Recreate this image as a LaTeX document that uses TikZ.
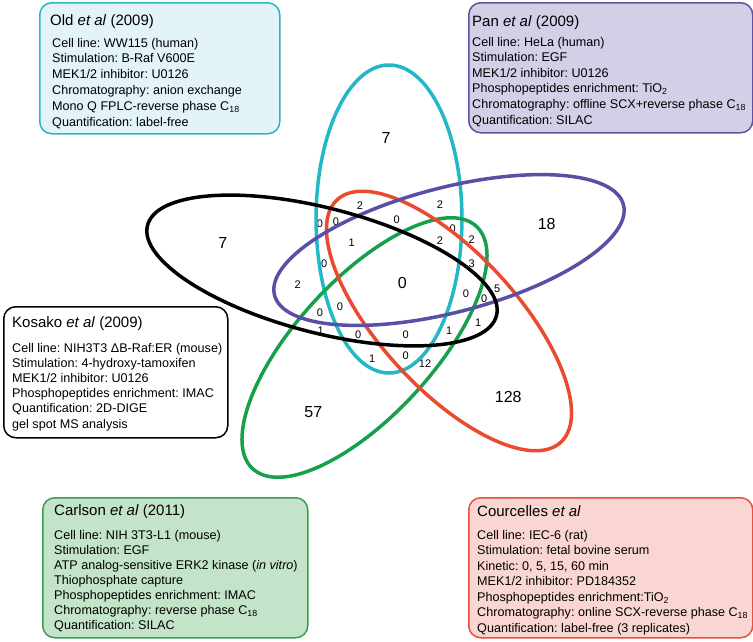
\documentclass[tikz,border=0pt]{standalone}
\usepackage{fontspec}
\setmainfont{Liberation Sans}
\frenchspacing
\definecolor{cyE}{HTML}{22B8C6}
\definecolor{puE}{HTML}{5A4FA6}
\definecolor{grE}{HTML}{16A04A}
\definecolor{reE}{HTML}{EA4A30}
\definecolor{cyF}{HTML}{E2F4F8}
\definecolor{puF}{HTML}{D3CFE7}
\definecolor{grF}{HTML}{C4E4C9}
\definecolor{reF}{HTML}{FAD6D2}
\definecolor{cyB}{HTML}{30B4C2}
\definecolor{puB}{HTML}{5E52A2}
\definecolor{grB}{HTML}{3A9E55}
\definecolor{reB}{HTML}{E8503C}
\newcommand{\vennell}[5]{%
  \begin{scope}[shift={(#1,#2)}, xscale=1.186]
    \draw[ell, #4, rotate=#3] (0,0) ellipse [x radius=154pt, y radius=61.5pt];
  \end{scope}}
\begin{document}
\begin{tikzpicture}[x=1pt, y=-1pt,
  boxst/.style={rounded corners=12pt, line width=1.5pt, anchor=north west, inner sep=0pt},
  ttl/.style={anchor=base west, inner sep=0pt, font=\fontsize{15}{18}\selectfont},
  txt/.style={anchor=base west, inner sep=0pt, font=\fontsize{12.6}{15}\selectfont},
  sm/.style={inner sep=0pt, font=\fontsize{11}{13}\selectfont},
  big/.style={inner sep=0pt, font=\fontsize{16}{19}\selectfont},
  ell/.style={line width=3.5pt}]
\useasboundingbox (0,0) rectangle (753,641);
\fill[white] (0,0) rectangle (753,641);

% boxes
\node[boxst, draw=cyB, fill=cyF, minimum width=240pt, minimum height=131pt] (oldbox) at (39,2) {};
\node[boxst, draw=puB, fill=puF, minimum width=284pt, minimum height=130pt] (panbox) at (468,2) {};
\node[boxst, draw=black, fill=white, minimum width=224pt, minimum height=131pt] (kosbox) at (3,306) {};
\node[boxst, draw=grB, fill=grF, minimum width=265pt, minimum height=140pt] (carbox) at (42,497) {};
\node[boxst, draw=reB, fill=reF, minimum width=284pt, minimum height=140pt] (coubox) at (468,497) {};

% Old
\node[ttl] (oldt) at (50,25) {Old \textit{et al} (2009)};
\foreach \t [count=\i] in {{Cell line: WW115 (human)},{Stimulation: B-Raf V600E},{MEK1/2 inhibitor: U0126},{Chromatography: anion exchange},{Mono Q FPLC-reverse phase C\textsubscript{18}},{Quantification: label-free}}
  \node[txt] (old\i) at (52,{47+(\i-1)*15.8}) {\t};
% Pan
\node[ttl] (pant) at (472,26) {Pan \textit{et al} (2009)};
\foreach \t [count=\i] in {{Cell line: HeLa (human)},{Stimulation: EGF},{MEK1/2 inhibitor: U0126},{Phosphopeptides enrichment: TiO\textsubscript{2}},{Chromatography: offline SCX+reverse phase C\textsubscript{18}},{Quantification: SILAC}}
  \node[txt] (pan\i) at (472,{46+(\i-1)*15.6}) {\t};
% Kosako
\node[ttl] (kost) at (12,327) {Kosako \textit{et al} (2009)};
\foreach \t [count=\i] in {{Cell line: NIH3T3 ΔB-Raf:ER (mouse)},{Stimulation: 4-hydroxy-tamoxifen},{MEK1/2 inhibitor: U0126},{Phosphopeptides enrichment: IMAC},{Quantification: 2D-DIGE},{gel spot MS analysis}}
  \node[txt] (kos\i) at (12,{352+(\i-1)*15.2}) {\t};
% Carlson
\node[ttl] (cart) at (54,515) {Carlson \textit{et al} (2011)};
\foreach \t [count=\i] in {{Cell line: NIH 3T3-L1 (mouse)},{Stimulation: EGF},{ATP analog-sensitive ERK2 kinase (\textit{in vitro})},{Thiophosphate capture},{Phosphopeptides enrichment: IMAC},{Chromatography: reverse phase C\textsubscript{18}},{Quantification: SILAC}}
  \node[txt] (car\i) at (54,{539+(\i-1)*15}) {\t};
% Courcelles
\node[ttl] (cout) at (477,516) {Courcelles \textit{et al}};
\foreach \t [count=\i] in {{Cell line: IEC-6 (rat)},{Stimulation: fetal bovine serum},{Kinetic: 0, 5, 15, 60 min},{MEK1/2 inhibitor: PD184352},{Phosphopeptides enrichment:TiO\textsubscript{2}},{Chromatography: online SCX-reverse phase C\textsubscript{18}},{Quantification: label-free (3 replicates)}}
  \node[txt] (cou\i) at (477,{539+(\i-1)*15.5}) {\t};

% Venn numbers
\foreach \x/\y/\t [count=\i] in {360/206/2, 320/223.3/0, 336/221.7/0, 351.7/242.7/1, 324.3/263.3/0, 297.7/285/2, 320/312.7/0, 340/306.7/0, 320.7/330.7/1, 358.3/335/0, 372.3/358.3/1, 440/205/2, 396.7/219.3/0, 452.7/228.3/0, 440/241/2, 471.7/240/2, 471.7/263.3/3, 466/293.3/0, 484.3/299/0, 497.3/288.3/5, 478.3/322.7/1, 449.3/330.7/1, 405.7/334.3/0, 405.7/356/0, 425/363.3/12}
  \node[sm] (s\i) at (\x,\y) {\t};
\foreach \x/\y/\t [count=\i] in {386/138.3/7, 222.7/243.3/7, 546.7/224.3/18, 402.3/283.3/0, 313.3/411.7/57, 508.3/396.7/128}
  \node[big] (b\i) at (\x,\y) {\t};

% ellipses (bottom to top)
\vennell{389}{219}{90}{cyE}{}
\vennell{364.5}{347.5}{54}{grE}{}
\vennell{449}{321}{-54}{reE}{}
\vennell{449}{250}{18}{puE}{}
\vennell{322}{270.5}{-18}{black}{}
\end{tikzpicture}
\end{document}
